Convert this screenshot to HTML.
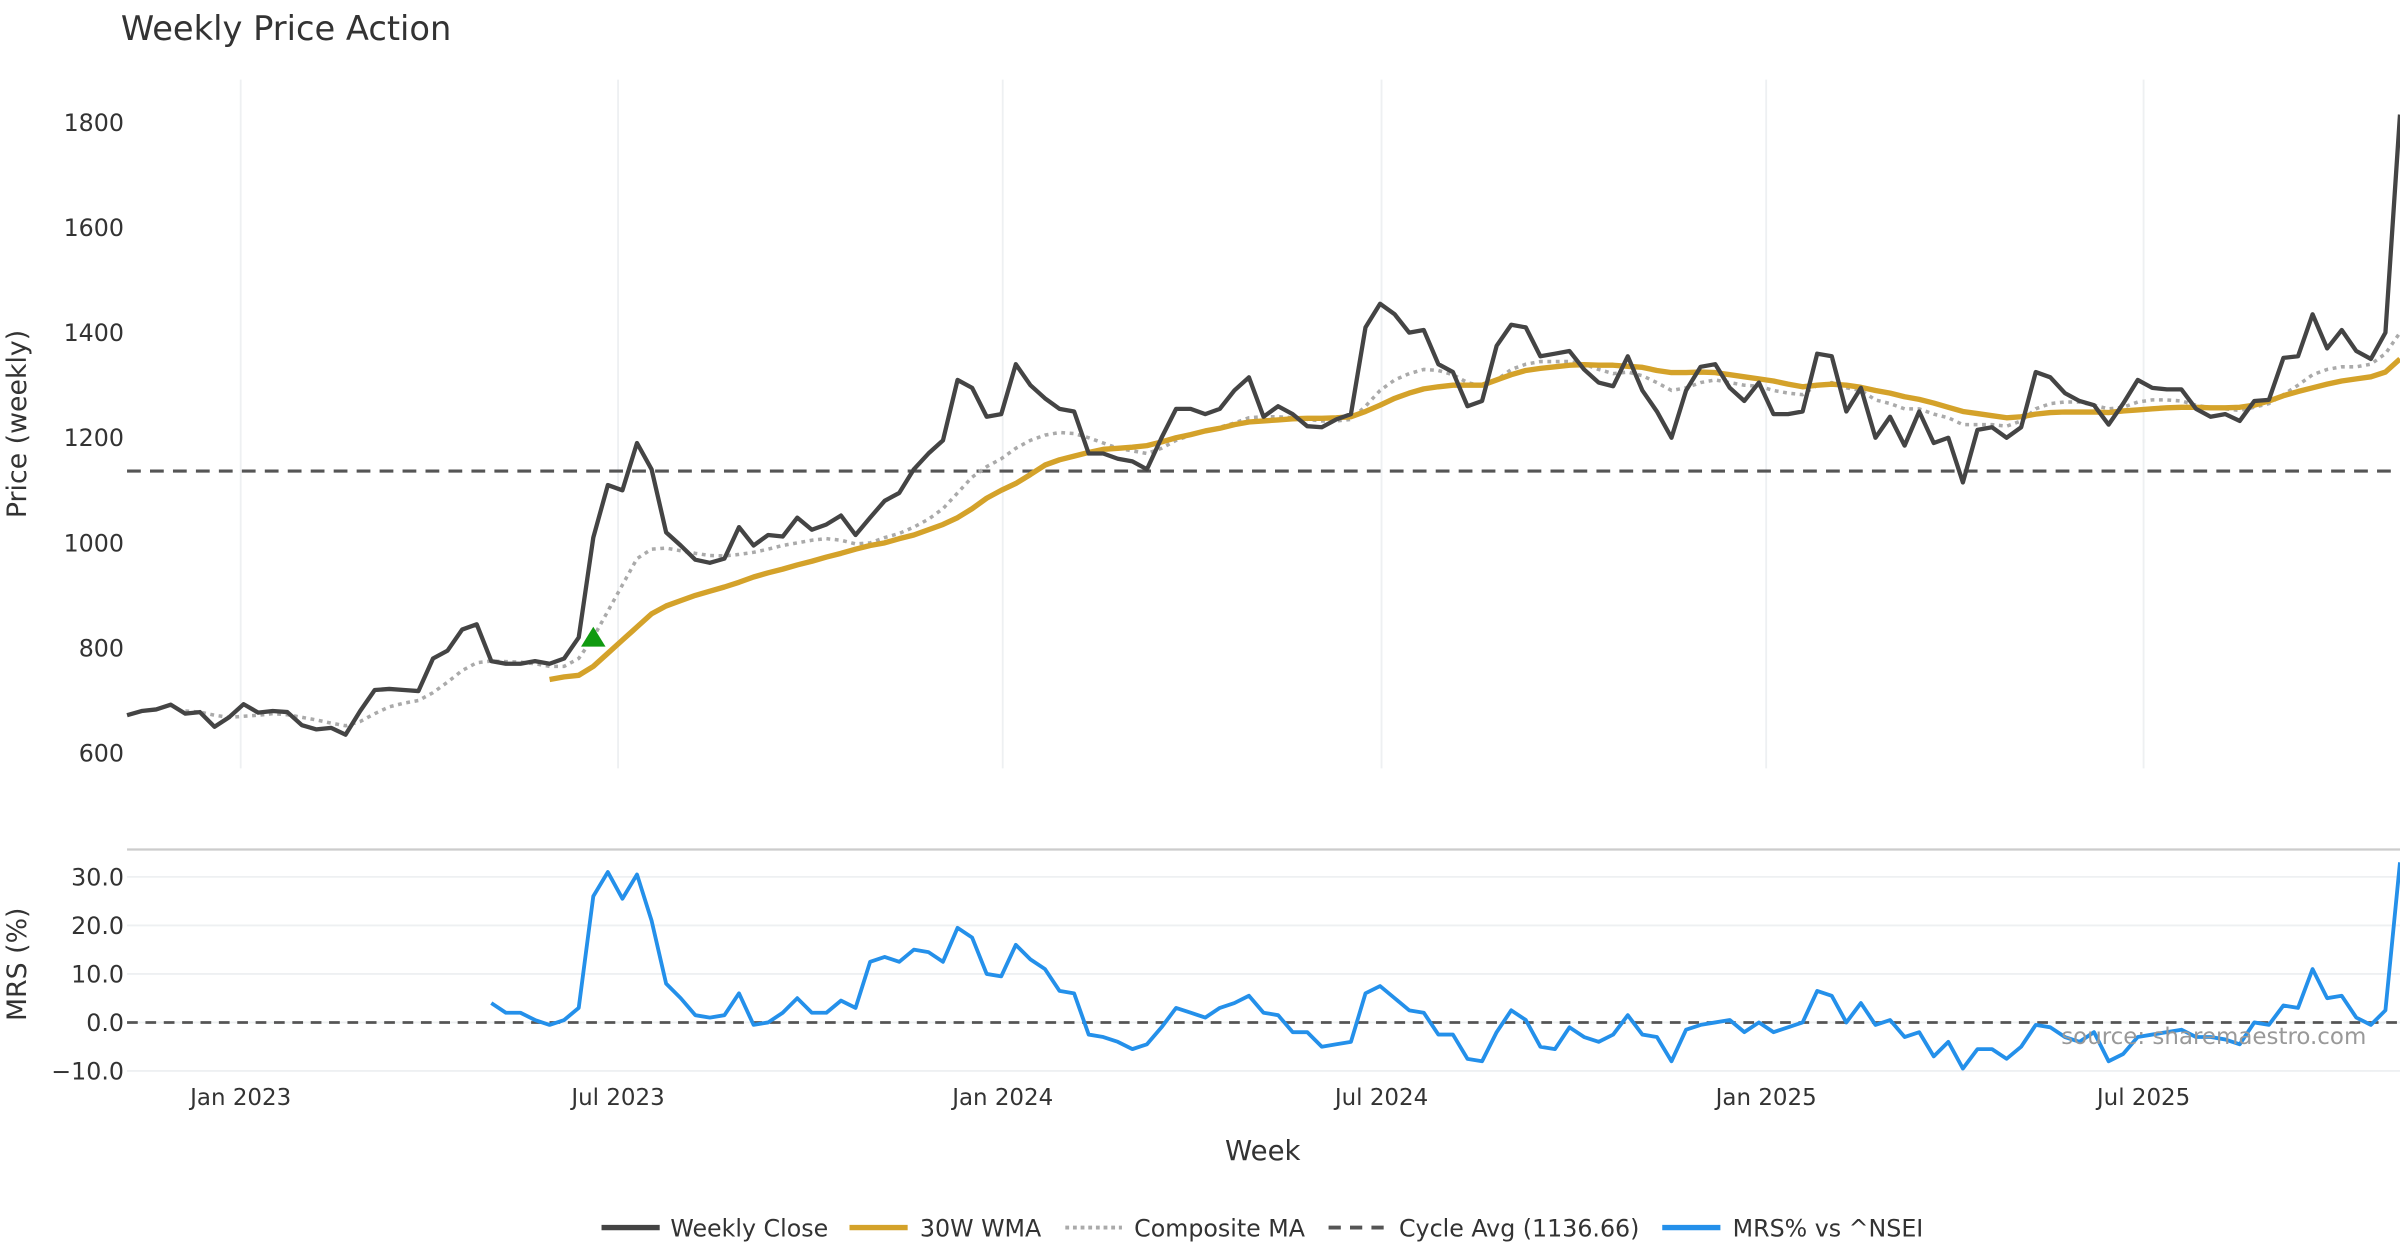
<!DOCTYPE html>
<html><head><meta charset="utf-8"><style>
html,body{margin:0;padding:0;background:#fff}
svg{display:block;font-family:"DejaVu Sans","Liberation Sans",sans-serif}
</style></head><body>
<svg id="chart" xmlns="http://www.w3.org/2000/svg" width="2400" height="1260" viewBox="0 0 1568 823.2">
<rect width="1568" height="823.2" fill="#fff"/>
<text x="79" y="26" font-size="22" fill="#333">Weekly Price Action</text>
<g id="grid"></g>
<g id="series"></g>
<g id="axes"></g>
<text x="1546" y="682" font-size="15" fill="#999" text-anchor="end">source: sharemaestro.com</text>
<text x="825" y="758" font-size="18" fill="#333" text-anchor="middle">Week</text>
<text transform="translate(17,277) rotate(-90)" font-size="17.5" fill="#333" text-anchor="middle">Price (weekly)</text>
<text transform="translate(17,630) rotate(-90)" font-size="17.5" fill="#333" text-anchor="middle">MRS (%)</text>
<g font-size="15.5" fill="#333">
 <g><line x1="393" y1="802" x2="431" y2="802" stroke="#444" stroke-width="3.5"/><text x="438" y="808">Weekly Close</text></g>
 <g><line x1="555" y1="802" x2="593" y2="802" stroke="#d4a22a" stroke-width="3.5"/><text x="601" y="808">30W WMA</text></g>
 <g><line x1="696" y1="802" x2="733" y2="802" stroke="#aaa" stroke-width="2.5" stroke-dasharray="2.5,2.5"/><text x="741" y="808">Composite MA</text></g>
 <g><line x1="868" y1="802" x2="906" y2="802" stroke="#555" stroke-width="2.5" stroke-dasharray="8,6"/><text x="914" y="808">Cycle Avg (1136.66)</text></g>
 <g><line x1="1086" y1="802" x2="1124" y2="802" stroke="#2490ea" stroke-width="3.5"/><text x="1132" y="808">MRS% vs ^NSEI</text></g>
</g>
</svg>
<script>
const closeVals=[672,680,683,692,675,678,650,668,693,677,680,678,653,645,648,635,680,720,722,720,718,780,795,835,845,775,770,770,775,770,780,820,1010,1110,1100,1190,1140,1020,995,968,962,970,1030,995,1015,1012,1048,1025,1035,1052,1015,1048,1080,1095,1140,1170,1195,1310,1295,1240,1245,1340,1300,1275,1255,1250,1170,1170,1160,1155,1140,1200,1255,1255,1245,1255,1290,1315,1240,1260,1245,1222,1220,1235,1245,1410,1455,1435,1400,1405,1340,1325,1260,1270,1375,1415,1410,1355,1360,1365,1330,1305,1298,1355,1290,1250,1200,1290,1335,1340,1295,1270,1305,1245,1245,1250,1360,1355,1250,1295,1200,1240,1185,1250,1190,1200,1115,1215,1220,1200,1220,1325,1315,1285,1270,1262,1225,1265,1310,1295,1292,1292,1255,1240,1245,1232,1270,1272,1352,1355,1435,1370,1405,1365,1350,1400,1815];
const wmaStart=29;
const wmaVals=[740,745,748,765,790,815,840,865,880,890,900,908,916,925,935,943,950,958,965,973,980,988,995,1000,1008,1015,1025,1035,1048,1065,1085,1100,1113,1130,1148,1158,1165,1172,1178,1180,1182,1185,1192,1200,1206,1213,1218,1225,1230,1232,1234,1236,1237,1237,1238,1240,1250,1262,1275,1285,1293,1297,1300,1300,1300,1310,1320,1328,1332,1335,1338,1339,1338,1338,1336,1334,1328,1324,1324,1325,1324,1320,1316,1312,1308,1302,1297,1300,1302,1300,1296,1290,1285,1278,1273,1266,1258,1250,1246,1242,1238,1240,1245,1248,1249,1249,1249,1248,1251,1253,1255,1257,1258,1258,1257,1257,1258,1262,1270,1280,1288,1295,1302,1308,1312,1316,1325,1350];
const compStart=4;
const compVals=[680,678,672,668,670,672,675,673,668,663,657,652,660,675,688,695,700,715,735,757,772,775,774,773,770,765,765,780,820,870,920,970,988,990,985,980,976,975,978,982,988,995,1000,1005,1008,1005,998,1000,1010,1018,1030,1045,1065,1095,1125,1145,1160,1180,1195,1205,1210,1208,1200,1190,1180,1175,1170,1180,1195,1205,1212,1220,1228,1238,1240,1240,1238,1235,1232,1232,1235,1260,1290,1310,1322,1330,1328,1320,1305,1298,1310,1330,1340,1345,1345,1345,1340,1330,1322,1325,1318,1305,1290,1295,1305,1310,1305,1300,1298,1290,1285,1282,1300,1305,1295,1290,1272,1265,1255,1255,1245,1238,1225,1225,1225,1222,1232,1255,1265,1268,1268,1262,1255,1258,1268,1272,1272,1270,1262,1257,1255,1252,1258,1265,1282,1300,1320,1330,1335,1335,1340,1360,1400];
const mrsVals=[4,2,2,0.5,-0.5,0.5,3,26,31,25.5,30.5,21,8,5,1.5,1,1.5,6,-0.5,0,2,5,2,2,4.5,3,12.5,13.5,12.5,15,14.5,12.5,19.5,17.5,10,9.5,16,13,11,6.5,6,-2.5,-3,-4,-5.5,-4.5,-1,3,2,1,3,4,5.5,2,1.5,-2,-2,-5,-4.5,-4,6,7.5,5,2.5,2,-2.5,-2.5,-7.5,-8,-2,2.5,0.5,-5,-5.5,-1,-3,-4,-2.5,1.5,-2.5,-3,-8,-1.5,-0.5,0,0.5,-2,0,-2,-1,0,6.5,5.5,0,4,-0.5,0.5,-3,-2,-7,-4,-9.5,-5.5,-5.5,-7.5,-5,-0.5,-1,-3,-4,-2,-8,-6.5,-3,-2.5,-2,-1.5,-3,-3,-3.5,-4.5,0,-0.5,3.5,3,11,5,5.5,1,-0.5,2.5,33];
const cycleAvg=1136.66;
const buyIndex=32, buyPrice=820;
const priceTicks=[600,800,1000,1200,1400,1600,1800];
const mrsTicks=[-10,0,10,20,30];
const dateLabels=["Jan 2023","Jul 2023","Jan 2024","Jul 2024","Jan 2025","Jul 2025"];
const dateIdx=[7.8,33.7,60.1,86.1,112.5,138.4];

const N=closeVals.length;
const X0=83,X1=1568;
const xs=i=>X0+(X1-X0)*i/(N-1);
const yp=v=>80+(1800-v)*(492-80)/1200;
const ym=v=>668-v*3.17;
const NS="http://www.w3.org/2000/svg";
function mk(tag,attrs,parent){const e=document.createElementNS(NS,tag);for(const k in attrs)e.setAttribute(k,attrs[k]);parent.appendChild(e);return e;}
const grid=document.getElementById('grid'),ser=document.getElementById('series'),ax=document.getElementById('axes');

dateIdx.forEach((d,k)=>{
 const x=xs(d);
 const g=mk('line',{x1:x,x2:x,y1:52,y2:502,stroke:'#eef0f2','stroke-width':1.2},grid);
 
 
 const t=mk('text',{x:x,y:722,'font-size':15,fill:'#333','text-anchor':'middle'},ax);
 t.textContent=dateLabels[k];
 
 
});
priceTicks.forEach(v=>{
 const t=mk('text',{x:81,y:yp(v)+5.5,'font-size':15.5,fill:'#333','text-anchor':'end'},ax);
 t.textContent=v;
 
 
});
mrsTicks.forEach(v=>{
 const g=mk('line',{x1:X0,x2:X1,y1:ym(v),y2:ym(v),stroke:'#eef0f2','stroke-width':1.2},grid);
 
 
 const t=mk('text',{x:81,y:ym(v)+5.5,'font-size':15.5,fill:'#333','text-anchor':'end'},ax);
 t.textContent=(v<0?'\u2212':'')+Math.abs(v).toFixed(1);
 
 
});
const sep=mk('line',{x1:X0,x2:X1,y1:555,y2:555,stroke:'#ccc','stroke-width':1.5},grid);



function path(vals,start,yf){return vals.map((v,i)=>(i?'L':'M')+xs(i+start).toFixed(2)+','+yf(v).toFixed(2)).join('');}
const ca=mk('line',{x1:X0,x2:X1,y1:yp(cycleAvg),y2:yp(cycleAvg),stroke:'#555','stroke-width':2,'stroke-dasharray':'9,6'},ser);


const z=mk('line',{x1:X0,x2:X1,y1:ym(0),y2:ym(0),stroke:'#555','stroke-width':1.8,'stroke-dasharray':'7,5'},ser);


const cm=mk('path',{d:path(compVals,compStart,yp),fill:'none',stroke:'#aaa','stroke-width':2.3,'stroke-dasharray':'2.5,3'},ser);


const wm=mk('path',{d:path(wmaVals,wmaStart,yp),fill:'none',stroke:'#d4a22a','stroke-width':3.5,'stroke-linejoin':'round'},ser);


const cl=mk('path',{d:path(closeVals,0,yp),fill:'none',stroke:'#444','stroke-width':2.8,'stroke-linejoin':'round'},ser);


const bx=xs(buyIndex),by=yp(buyPrice);
const bm=mk('polygon',{points:`${bx-8},${by+6} ${bx+8},${by+6} ${bx},${by-7}`,fill:'#109a10'},ser);


const ms=mk('path',{d:path(mrsVals,N-mrsVals.length,ym),fill:'none',stroke:'#2490ea','stroke-width':2.5,'stroke-linejoin':'round'},ser);


</script>
</body></html>
